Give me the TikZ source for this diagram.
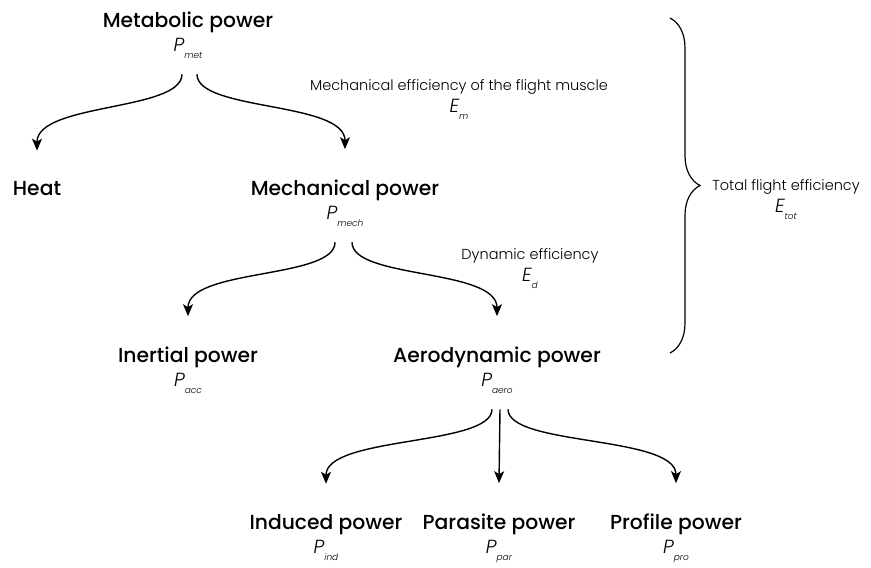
\documentclass[tikz,border=0pt]{standalone}
\usepackage{fontspec}
\usepackage{tikz}
\usetikzlibrary{arrows.meta,decorations.pathreplacing}

\newfontfamily\headfont{Poppins Medium}
\newfontfamily\lightfont{Poppins Light}
\newfontfamily\symfont{Poppins Light Italic}

% symbol with a low subscript, P_{met} etc.
\newcommand{\sym}[2]{{\symfont\fontsize{19}{19}\selectfont #1\raisebox{-7pt}{\fontsize{9}{9}\selectfont #2}}}

\begin{document}
\begin{tikzpicture}[x=1pt,y=-1pt,
    head/.style={align=center,inner sep=0pt,anchor=base,font=\headfont\fontsize{20.3}{24}\selectfont},
    eff/.style={align=center,inner sep=0pt,anchor=base,font=\lightfont\fontsize{14.5}{22}\selectfont},
    flow/.style={line width=1.4pt,-{Stealth[length=12pt,width=10pt,inset=3pt]}}]

        \useasboundingbox (0,0) rectangle (871,568);

        % power levels (placed at the baseline of the symbol line)
        \node[head] (met)   at (188,51)  {Metabolic power\\\sym{P}{met}};
        \node[head] (heat)  at (37,195)  {Heat};
        \node[head] (mech)  at (345,219) {Mechanical power\\\sym{P}{mech}};
        \node[head] (inert) at (188,386) {Inertial power\\\sym{P}{acc}};
        \node[head] (aero)  at (497,386) {Aerodynamic power\\\sym{P}{aero}};
        \node[head] (ind)   at (326,553) {Induced power\\\sym{P}{ind}};
        \node[head] (par)   at (499,553) {Parasite power\\\sym{P}{par}};
        \node[head] (pro)   at (676,553) {Profile power\\\sym{P}{pro}};

        % efficiencies
        \node[eff] (effm)   at (459,112) {Mechanical efficiency of the flight muscle\\\sym{E}{m}};
        \node[eff] (effd)   at (530,281) {Dynamic efficiency\\\sym{E}{d}};
        \node[eff] (efftot) at (786,212) {Total flight efficiency\\\sym{E}{tot}};

        % split arrows
        \draw[flow] ([shift={(-6pt,-16pt)}]met.south) .. controls +(0,37) and +(0,-48) .. ([yshift=30pt]heat.north);
        \draw[flow] ([shift={(9pt,-16pt)}]met.south) .. controls +(0,37) and +(0,-48) .. ([yshift=30pt]mech.north);
        \draw[flow] ([shift={(-10pt,-16pt)}]mech.south) .. controls +(0,37) and +(0,-48) .. ([yshift=30pt]inert.north);
        \draw[flow] ([shift={(7pt,-16pt)}]mech.south) .. controls +(0,37) and +(0,-48) .. ([yshift=30pt]aero.north);

        \draw[flow] ([shift={(-5pt,-16pt)}]aero.south) .. controls +(0,37) and +(0,-48) .. ([yshift=30pt]ind.north);
        \draw[flow] ([shift={(3pt,-16pt)}]aero.south) -- ([yshift=30pt]par.north);
        \draw[flow] ([shift={(11pt,-16pt)}]aero.south) .. controls +(0,37) and +(0,-48) .. ([yshift=30pt]pro.north);

        % brace over the first two steps
        \draw[line width=1.2pt,decorate,decoration={brace,amplitude=30pt}]
            (670,18) -- (670,353);

    \end{tikzpicture}
\end{document}
